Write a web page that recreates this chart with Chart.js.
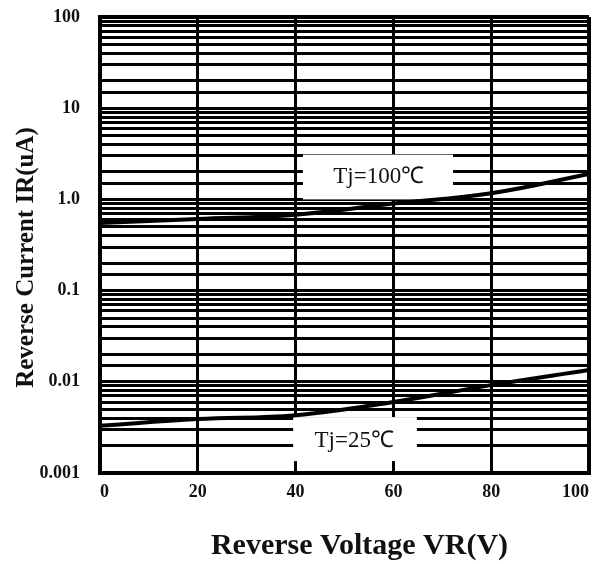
<!DOCTYPE html>
<html>
<head>
<meta charset="utf-8">
<script src="https://cdn.jsdelivr.net/npm/chart.js@4"></script>
<style>
  html, body { margin: 0; padding: 0; background: #fff; }
  #wrap { width: 593px; height: 564px; }
</style>
</head>
<body>
<div id="wrap"><canvas id="chart" width="593" height="564"></canvas></div>
<script>

/* DATA */

const voltages = [0, 20, 40, 60, 80, 100];
const current100 = [0.55, 0.61, 0.68, 0.9, 1.17, 1.9];
const current25 = [0.0033, 0.0039, 0.0043, 0.006, 0.0092, 0.0135];
const yTickLabels = { 0.001: "0.001", 0.01: "0.01", 0.1: "0.1", 1: "1.0", 10: "10", 100: "100" };

/* curve labels, placed in data units */
const curveLabels = [
  { text: "Tj=100\u2103", x: 57, y: 1.78, box: [41.5, 72.2, 3.1, 1.0] },
  { text: "Tj=25\u2103", x: 52, y: 0.00224, box: [39.5, 64.8, 0.0041, 0.00135] }
];

const serif = "'Liberation Serif', 'Times New Roman', serif";

const labelPlugin = {
  id: "curveLabels",
  beforeDatasetsDraw(chart) {
    const { ctx, scales } = chart;
    const x = scales.x, y = scales.y;
    ctx.save();
    curveLabels.forEach(l => {
      const x0 = x.getPixelForValue(l.box[0]);
      const x1 = x.getPixelForValue(l.box[1]);
      const y0 = y.getPixelForValue(l.box[2]);
      const y1 = y.getPixelForValue(l.box[3]);
      ctx.fillStyle = "#fff";
      ctx.fillRect(x0, y0, x1 - x0, y1 - y0);
      ctx.fillStyle = "#111";
      ctx.font = "23px " + serif;
      ctx.textAlign = "center";
      ctx.textBaseline = "middle";
      ctx.fillText(l.text, x.getPixelForValue(l.x), y.getPixelForValue(l.y));
    });
    ctx.restore();
  }
};

new Chart(document.getElementById("chart"), {

  type: "line",

  data: {
    labels: voltages,
    datasets: [
      {
        data: voltages.map((v, i) => ({ x: v, y: current100[i] })),
        borderColor: "#000",
        borderWidth: 4,
        pointRadius: 0,
        tension: 0.4
      },
      {
        data: voltages.map((v, i) => ({ x: v, y: current25[i] })),
        borderColor: "#000",
        borderWidth: 4,
        pointRadius: 0,
        tension: 0.4
      }
    ]
  },

  options: {
    responsive: false,
    animation: false,
    layout: { padding: { top: 17, right: 4, left: 0, bottom: 0 } },
    plugins: {
      legend: { display: false },
      tooltip: { enabled: false }
    },
    scales: {
      x: {
        type: "linear",
        min: 0,
        max: 100,
        ticks: {
          stepSize: 20,
          align: "inner",
          color: "#111",
          font: { family: serif, size: 18, weight: "bold" },
          padding: 9
        },
        grid: {
          color: "#000",
          lineWidth: c => (c.index === 0 || c.index === 5) ? 4 : 3,
          drawTicks: false
        },
        border: { color: "#000", width: 4 },
        title: {
          display: true,
          text: "    Reverse Voltage VR(V)",
          color: "#111",
          font: { family: serif, size: 30, weight: "bold" },
          padding: { top: 27, bottom: 0 }
        },
        afterFit: s => {
          s.height = 91;
          s.paddingLeft = 0;
          s.paddingRight = 0;
        }
      },
      y: {
        type: "logarithmic",
        min: 0.001,
        max: 100,
        ticks: {
          autoSkip: false,
          color: "#111",
          font: { family: serif, size: 18, weight: "bold" },
          padding: 20,
          callback: v => yTickLabels[v] || ""
        },
        grid: {
          color: "#000",
          lineWidth: c => (c.tick && (c.tick.value === 100 || c.tick.value === 0.001)) ? 4 : 3,
          drawTicks: false
        },
        border: { color: "#000", width: 4 },
        title: {
          display: true,
          text: "Reverse Current IR(uA)    ",
          color: "#111",
          font: { family: serif, size: 25, weight: "bold" },
          padding: { top: 12, bottom: 4 }
        },
        afterFit: s => {
          s.width = 100;
          s.paddingTop = 0;
          s.paddingBottom = 0;
        }
      }
    }
  },

  plugins: [labelPlugin]

});

</script>
</body>
</html>
